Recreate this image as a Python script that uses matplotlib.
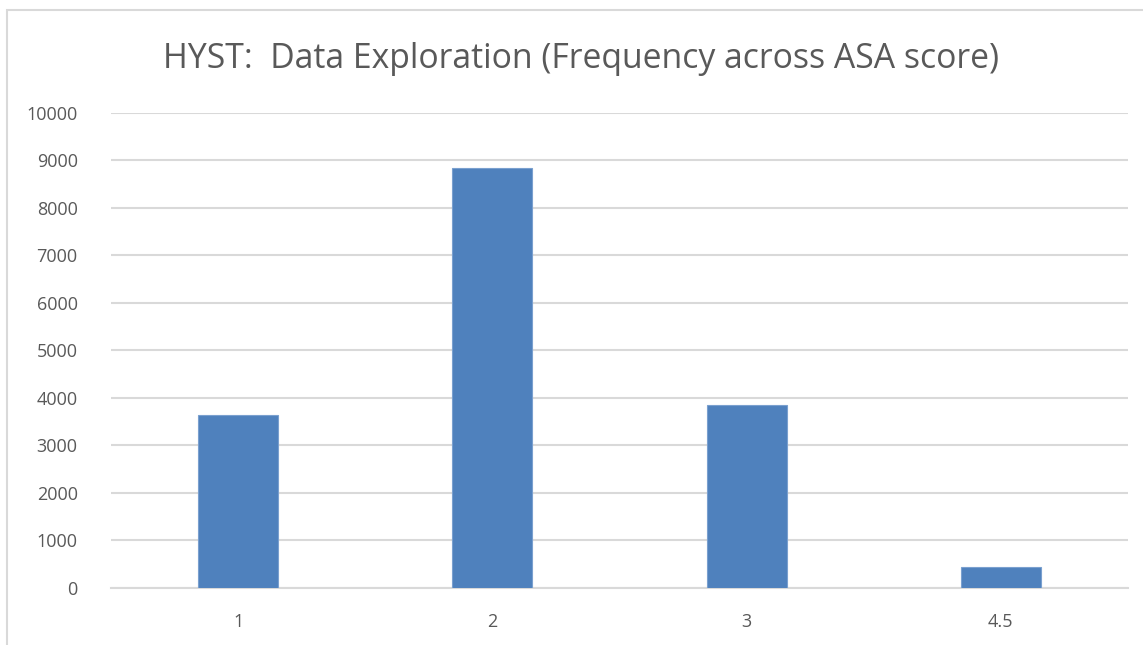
import matplotlib
matplotlib.use("Agg")
import matplotlib.pyplot as plt
from matplotlib.patches import Rectangle

categories = ["1", "2", "3", "4.5"]
frequency = [3640, 8840, 3860, 450]
yticks = [0, 1000, 2000, 3000, 4000, 5000, 6000, 7000, 8000, 9000, 10000]

W, H = 1143, 645
fig = plt.figure(figsize=(W / 100, H / 100), dpi=100)
fig.patch.set_facecolor("white")

# chart border (left/top visible)
fig.patches.append(Rectangle((7 / W, -0.1), 1.2, 1 - 10 / H + 0.1, transform=fig.transFigure,
                             fill=False, edgecolor="#d9d9d9", linewidth=1.5, zorder=0))

ax = fig.add_axes([111 / W, 1 - 588 / H, (1128 - 111) / W, (588 - 112.7) / H])
x = list(range(len(categories)))
ax.bar(x, frequency, width=0.315, color="#4f81bd", edgecolor="#7aa0cf", linewidth=0.8, zorder=3)
ax.set_xlim(-0.5, len(categories) - 0.5)
ax.set_ylim(0, 10000)
ax.set_yticks(yticks)
ax.set_yticklabels([str(v) for v in yticks])
ax.set_xticks(x)
ax.set_xticklabels(categories)
ax.grid(axis="y", color="#d9d9d9", linewidth=1.5, zorder=0)
ax.set_axisbelow(True)
for s in ["top", "right", "left"]:
    ax.spines[s].set_visible(False)
ax.spines["bottom"].set_color("#d9d9d9")
ax.spines["bottom"].set_linewidth(1.5)
ax.tick_params(axis="both", length=0, colors="#595959", labelsize=13)
ax.tick_params(axis="y", pad=24)
ax.tick_params(axis="x", pad=18)
for lab in ax.get_xticklabels() + ax.get_yticklabels():
    lab.set_fontfamily("Open Sans")

fig.text(581 / W, 1 - 59 / H, "HYST:  Data Exploration (Frequency across ASA score)",
         ha="center", va="center", fontsize=24.3, color="#595959", family="Open Sans")

fig.savefig("out.png", dpi=100)
